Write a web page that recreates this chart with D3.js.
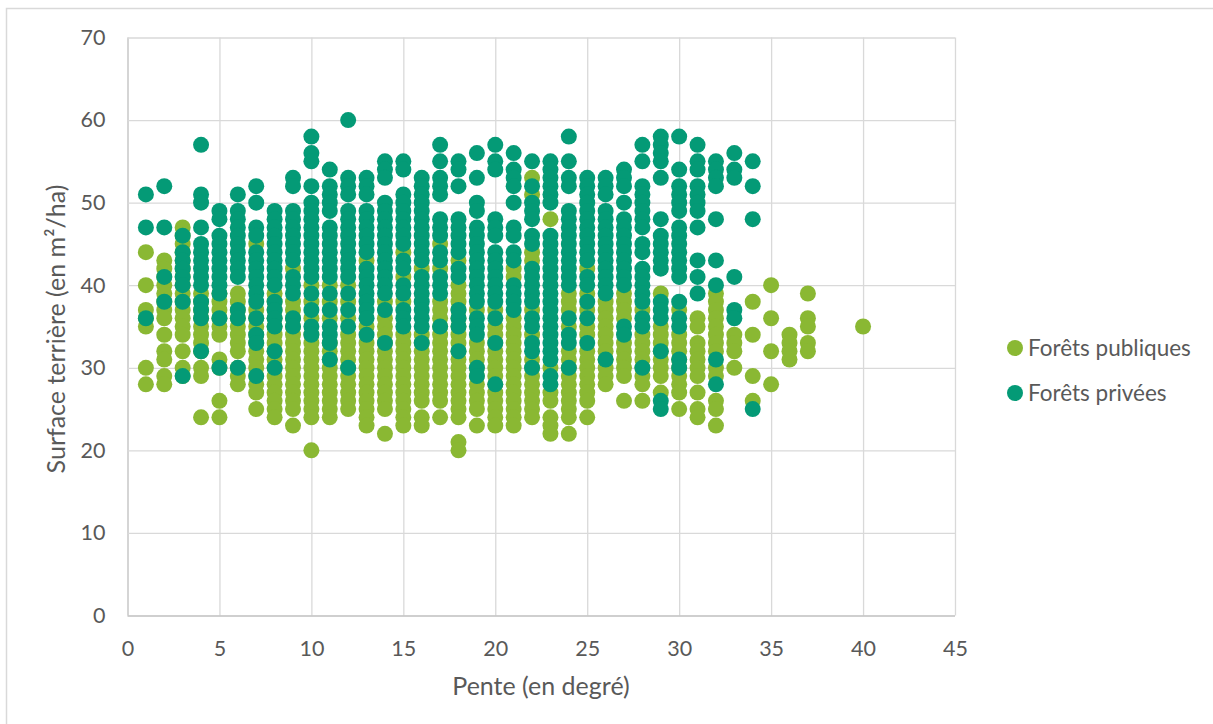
<!DOCTYPE html>
<html lang="fr">
<head>
<meta charset="utf-8">
<script src="https://cdn.jsdelivr.net/npm/d3@7"></script>
<style>
html,body{margin:0;padding:0;background:#fff;overflow:hidden}
svg{display:block}
text{font-family:Lato,"Open Sans",sans-serif;fill:#595959}
</style>
</head>
<body>
<svg id="chart" width="1213" height="724"></svg>
<script>
const xTicks = [0,5,10,15,20,25,30,35,40,45];
const yTicks = [0,10,20,30,40,50,60,70];
const xTitle = "Pente (en degré)";
const yTitle = "Surface terrière (en m²/ha)";
const seriesNames = ["Forêts publiques","Forêts privées"];
const seriesColors = ["#8AB833","#049A76"];

// [pente, [surfaces terrières]]
const foretsPubliques = [
[1,[44,40,37,36,35,30,28]],
[2,[43,42,41,40,39,38,37,36,34,32,31,29,28]],
[3,[47,46,45,44,43,42,41,40,39,38,37,36,35,34,32,30,29]],
[4,[39,38,37,36,35,34,33,32,30,29,24]],
[5,[39,38,37,36,35,34,31,30,26,24]],
[6,[39,38,37,36,35,34,33,32,30,29,28]],
[7,[45,37,36,35,34,33,32,31,30,29,28,27,25]],
[8,[39,38,37,36,35,34,33,32,31,30,29,28,27,26,25,24]],
[9,[42,38,37,36,35,34,33,32,31,30,29,28,27,26,25,23]],
[10,[40,38,36,34,33,32,31,30,29,28,27,26,25,24,20]],
[11,[40,38,36,33,32,31,30,29,28,27,26,25,24]],
[12,[40,38,36,34,33,32,31,30,29,28,27,26,25]],
[13,[43,35,33,32,31,30,29,28,27,26,25,24,23]],
[14,[38,36,35,34,33,32,31,30,29,28,27,26,25,22]],
[15,[44,41,38,34,33,32,31,30,29,28,27,26,25,24,23]],
[16,[42,34,33,32,31,30,29,28,27,26,24,23]],
[17,[45,42,38,37,36,35,34,33,32,31,30,29,28,27,26,24]],
[18,[43,40,39,38,37,36,35,34,33,32,31,30,29,28,27,26,25,24,21,20]],
[19,[37,33,32,31,30,29,28,27,26,25,23]],
[20,[37,35,34,33,32,31,30,29,28,27,26,25,24,23]],
[21,[42,41,36,35,34,33,32,31,30,29,28,27,26,25,24,23]],
[22,[53,51,44,43,37,34,31,30,29,28,27,26,25,24]],
[23,[48,30,27,26,24,23,22]],
[24,[39,38,37,35,32,31,30,29,28,27,26,25,24,22]],
[25,[42,39,37,35,34,32,31,30,29,28,27,26,24]],
[26,[38,37,36,35,34,33,32,31,30,29,28]],
[27,[39,38,37,36,33,32,31,30,29,26]],
[28,[37,34,33,32,31,30,29,28,26]],
[29,[39,35,34,33,32,31,30,29,27]],
[30,[37,34,33,32,31,30,29,28,27,25]],
[31,[36,35,33,32,31,30,29,27,25,24]],
[32,[39,38,37,36,35,34,33,32,30,29,26,25,23]],
[33,[34,33,32,30]],
[34,[38,34,29,26]],
[35,[40,36,32,28]],
[36,[34,33,32,31]],
[37,[39,36,35,33,32]],
[40,[35]]
];

const foretsPrivees = [
[1,[51,47,36]],
[2,[52,47,41,38]],
[3,[46,44,43,42,41,40,38,29]],
[4,[57,51,50,47,45,44,43,42,41,40,38,37,36,32]],
[5,[49,48,46,45,44,43,42,41,40,39,36,30]],
[6,[51,49,48,47,46,45,44,43,42,41,37,36,30]],
[7,[52,50,47,46,44,43,42,41,40,39,38,36,34,33,29]],
[8,[49,48,47,46,45,44,43,42,41,40,38,37,36,35,32,30]],
[9,[53,52,49,48,47,46,45,44,43,41,40,39,36,35]],
[10,[58,56,55,52,50,49,48,47,46,45,44,43,42,41,39,37,35,34]],
[11,[54,52,51,50,49,47,46,45,44,43,42,41,39,37,35,34,33,31]],
[12,[60,53,52,51,49,48,47,46,45,44,43,42,41,39,37,35,30]],
[13,[53,52,51,49,48,47,46,45,44,42,41,40,39,38,37,36,34]],
[14,[55,54,53,50,49,48,47,46,45,44,43,42,41,40,39,37,33]],
[15,[55,54,51,50,49,48,47,46,45,43,42,40,39,37,36,35]],
[16,[53,52,51,50,49,48,47,46,45,44,43,41,40,39,38,37,36,35,33]],
[17,[57,55,53,52,51,48,47,46,44,43,41,40,39,35]],
[18,[55,54,52,48,47,46,45,44,42,41,37,36,35,32]],
[19,[56,53,50,49,47,46,45,44,43,42,41,40,39,38,36,35,34,30,29]],
[20,[57,55,54,48,47,46,44,43,42,41,40,39,38,36,33,28]],
[21,[56,54,53,52,50,47,46,44,43,40,39,38,37]],
[22,[55,52,50,49,48,46,45,42,41,40,39,38,36,35,33,32,30]],
[23,[55,54,53,52,51,50,46,45,44,43,42,41,40,39,38,37,36,35,34,33,32,31,29,28]],
[24,[58,55,53,52,49,48,47,46,45,44,43,42,41,40,36,34,33,30]],
[25,[53,52,51,50,49,48,47,46,45,44,43,41,40,38,36,33]],
[26,[53,52,51,49,48,47,46,45,44,43,42,41,40,39,31]],
[27,[54,53,52,50,48,47,46,45,44,43,42,41,40,35,34]],
[28,[57,55,52,51,50,49,48,47,45,44,42,41,40,39,38,36,35,30]],
[29,[58,57,56,55,53,48,46,45,44,43,42,38,37,36,32,26,25]],
[30,[58,54,52,51,50,49,47,46,45,44,43,42,41,38,36,35,31,30]],
[31,[57,55,54,52,51,50,49,47,43,41,39]],
[32,[55,54,53,52,48,43,40,31,28]],
[33,[56,54,53,41,37,36]],
[34,[55,52,48,25]]
];

const flat = rows => rows.flatMap(([x, ys]) => ys.map(y => ({x, y})));

const svg = d3.select("#chart");
const x = d3.scaleLinear().domain([0,45]).range([127.5,955]);
const y = d3.scaleLinear().domain([0,70]).range([615.5,37.5]);

// outer frame
svg.append("path").attr("d","M6.5,724V8.5H1213").attr("fill","none").attr("stroke","#d9d9d9").attr("stroke-width",1.5);

// axes and grid
const xAxis = d3.axisBottom(x).tickValues(xTicks).tickSize(-(y(0)-y(70))).tickPadding(25);
const yAxis = d3.axisLeft(y).tickValues(yTicks).tickSize(-(x(45)-x(0))).tickPadding(22);
const gx = svg.append("g").attr("transform",`translate(0,${y(0)})`).call(xAxis);
const gy = svg.append("g").attr("transform",`translate(${x(0)},0)`).call(yAxis);
[gx,gy].forEach(g=>{
  g.selectAll(".domain").remove();
  g.selectAll(".tick line").attr("stroke","#d9d9d9").attr("stroke-width",1.3);
  g.selectAll(".tick text").attr("font-size",21.5).style("font-family","Lato,sans-serif").attr("fill","#595959");
});
gx.selectAll(".tick").filter(d=>d===0).select("line").attr("stroke","#bfbfbf");
gy.selectAll(".tick").filter(d=>d===0).select("line").attr("stroke","#bfbfbf");

// points
[foretsPubliques, foretsPrivees].forEach((rows,i)=>{
  svg.append("g").selectAll("circle").data(flat(rows)).join("circle")
    .attr("cx",d=>x(d.x)).attr("cy",d=>y(d.y)).attr("r",8)
    .attr("fill",seriesColors[i]);
});

// titles
svg.append("text").attr("x",541).attr("y",695).attr("text-anchor","middle").attr("font-size",25).text(xTitle);
svg.append("text").attr("transform","translate(65,329) rotate(-90)").attr("text-anchor","middle").attr("font-size",25).text(yTitle);

// legend
const legendY = [348,393];
seriesNames.forEach((n,i)=>{
  svg.append("circle").attr("cx",1015).attr("cy",legendY[i]).attr("r",8).attr("fill",seriesColors[i]);
  svg.append("text").attr("x",1028).attr("y",legendY[i]+8).attr("font-size",22.5).text(n);
});
</script>
</body>
</html>
